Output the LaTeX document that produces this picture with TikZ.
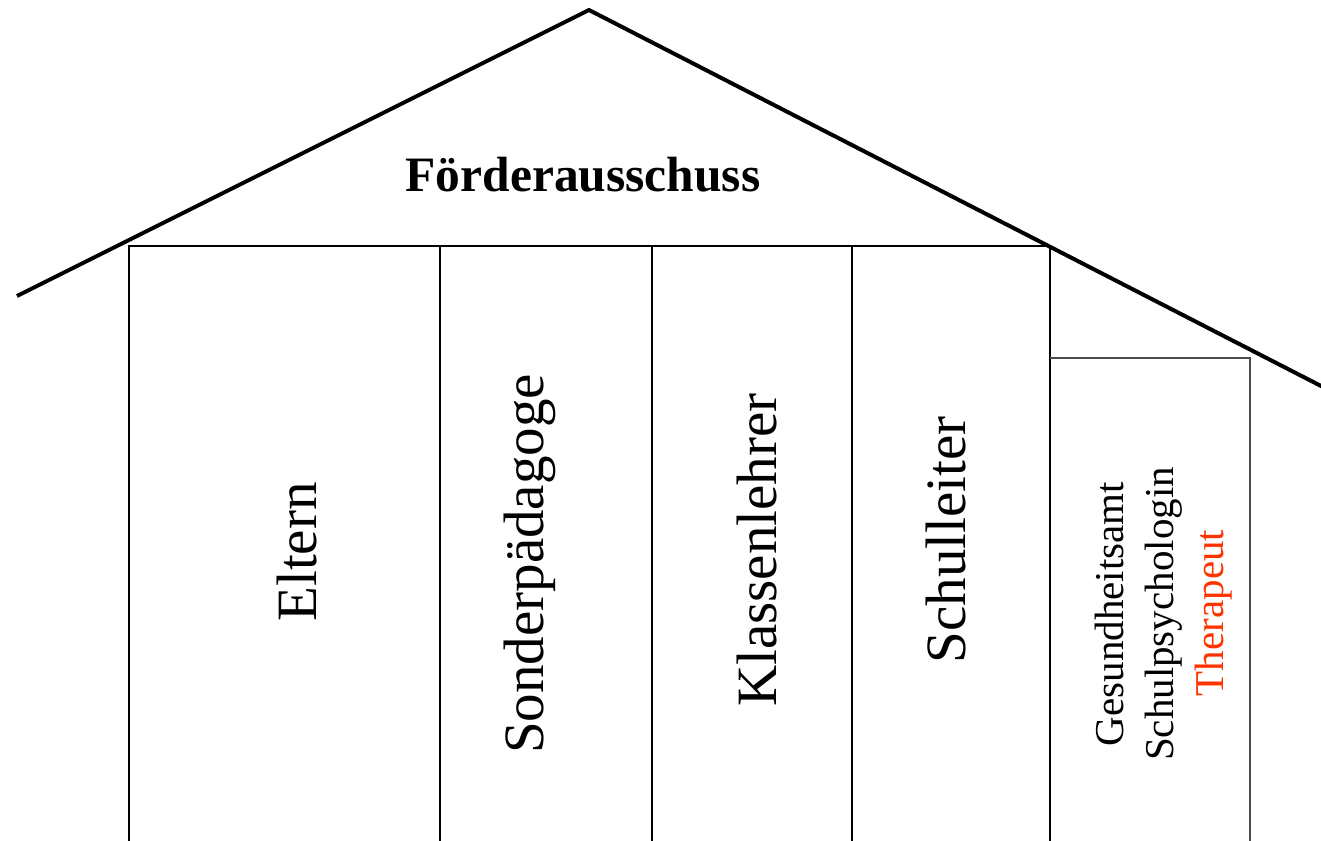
\documentclass[tikz,border=0pt]{standalone}
\usepackage{fontspec}
\setmainfont{Liberation Serif}
\definecolor{thera}{RGB}{255,51,0}
\begin{document}
\begin{tikzpicture}[x=1pt,y=-1pt,
  roof/.style={line width=4pt, line join=miter},
  col/.style={line width=1.1pt, draw=black},
  side/.style={line width=1.1pt, draw=black!70},
  lab/.style={rotate=90, anchor=base, inner sep=0pt, font=\fontsize{57}{68}\selectfont},
  small/.style={rotate=90, anchor=base, inner sep=0pt, font=\fontsize{41}{49}\selectfont}]
\useasboundingbox (0,0) rectangle (1321,840);
\clip (0,0) rectangle (1321,840);
\coordinate (L) at (17,296);
\coordinate (A) at (589,10);
\coordinate (R) at (1331,391.1);
% columns
\draw[col] (129,850) -- (129,246) -- (1050,246) -- (1050,850);
\draw[col] (440,246) -- (440,850);
\draw[col] (652,246) -- (652,850);
\draw[col] (852,246) -- (852,850);
\draw[side] (1050,358) -- (1250,358) -- (1250,850);
% roof
\draw[roof] (L) -- (A) -- (R);
% labels
\node[anchor=base, inner sep=0pt, font=\bfseries\fontsize{49.5}{60}\selectfont] (title) at (583,191) {Förderausschuss};
\node[lab] (eltern) at (316,552) {Eltern};
\node[lab] (sonder) at (543,564) {Sonderpädagoge};
\node[lab] (klassen) at (776,550) {Klassenlehrer};
\node[lab] (leiter) at (965,540) {Schulleiter};
\node[small] (g1) at (1123,614) {Gesundheitsamt};
\node[small] (g2) at (1173,614) {Schulpsychologin};
\node[small, text=thera] (g3) at (1223,613) {Therapeut};
\end{tikzpicture}
\end{document}
